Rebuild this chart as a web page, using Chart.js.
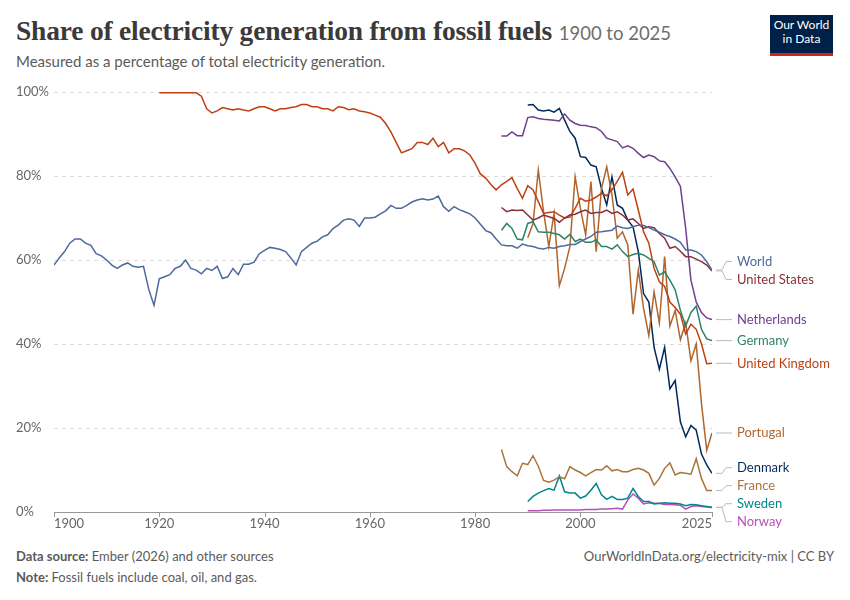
<!DOCTYPE html>
<html><head><meta charset="utf-8">
<script src="https://cdn.jsdelivr.net/npm/chart.js@4"></script>
<style>
body{margin:0;width:850px;height:600px;background:#fff;font-family:Lato,sans-serif;position:relative;overflow:hidden}
#c{position:absolute;left:0;top:0}
.t{position:absolute;white-space:nowrap}
</style></head><body>
<div class="t" style="left:16px;top:15px;font-family:'Liberation Serif',serif;font-size:27.5px;font-weight:bold;color:#3a3a3a;letter-spacing:-0.2px">Share of electricity generation from fossil fuels <span style="font-family:Lato;font-weight:normal;font-size:18.5px;color:#6e6e6e;letter-spacing:0">1900 to 2025</span></div>
<div class="t" style="left:16px;top:52px;font-size:15px;color:#5b5b5b">Measured as a percentage of total electricity generation.</div>
<div class="t" style="left:770px;top:15px;width:63px;height:35px;background:#002147;border-bottom:3px solid #ce261e;color:#fff;font-size:12px;line-height:14px;text-align:center;padding-top:3px;box-sizing:content-box">Our World<br>in Data</div>
<div class="t" style="left:16px;top:548px;font-size:13px;color:#5b5b5b"><b>Data source:</b> Ember (2026) and other sources</div>
<div class="t" style="left:16px;top:569px;font-size:13px;color:#5b5b5b"><b>Note:</b> Fossil fuels include coal, oil, and gas.</div>
<div class="t" style="right:16px;top:548px;font-size:13px;color:#5b5b5b">OurWorldInData.org/electricity-mix | CC BY</div>
<canvas id="c" width="850" height="600"></canvas>
<script>
const worldStart=1900;
const world=[58.8,60.5,62,64,65,65,64,63.5,61.5,61,60,58.8,58,58.8,59.3,58.5,58.3,58.5,53,49.2,55.5,56,56.5,58,58.5,60,58,57.6,56.7,58,57.5,58.5,55.6,56,58,56.5,59,59,59.5,61.5,62.3,63,62.8,62.5,62,60.5,58.8,62,63,64,64.5,65.5,66,67.5,68.3,69.5,69.8,69.5,68,70,70,70.2,71,71.7,73,72.3,72.3,73,73.8,74.3,74.6,74.3,74.5,75.2,72.7,71.6,72.7,72,71.5,71,70,68.5,67,66.5,65,63.6,63.4,63.4,62.8,63.8,63.4,63.2,62.8,62.6,63,62.8,63.2,63.4,63.7,63.7,64.4,65,65.6,66.6,66.7,66.9,67.1,68.1,67.7,67.5,67.9,68.3,68.2,67.7,67.1,66.6,66,65.6,65,64.2,62.4,62.4,62,61.2,59.6,57.6];
const usStart=1985;
const us=[72.5,71.5,71.9,71.8,71.9,70.7,69.5,70,70.7,70.3,69.9,69,70,70.7,70.9,71.5,71.9,71.1,71.3,71.3,71.9,71.1,71.5,70.7,69.5,69.8,68.7,67.5,67.9,67.7,66.3,65.2,62.8,63.2,62.1,60.8,60.8,60.2,59.6,58.8,57.4];
const nlStart=1985;
const nl=[89.5,89.5,90.5,89.6,89.6,93.9,94.1,93.7,93.5,93.4,93.3,93.1,94.8,93.3,92.5,92.1,92,91.7,91.5,90.6,89,88.6,88.2,86.7,87.2,86.6,85.4,84.4,85,84.6,83.6,83.4,81.8,79.8,77.5,67.5,55.2,50,47.5,46.2,45.8];
const deStart=1985;
const de=[67.1,68.7,67.5,65,64.8,68.7,69.1,66.7,66.6,66.6,66.3,66,65,66.1,64.4,65,64.2,64.2,64.8,63.2,63.2,62.6,63.6,62,60.8,61.3,61.6,61.2,60.4,59.6,56.4,57.2,55.2,52.9,48,44.3,47.5,49,43.5,41.2,40.8];
const ukStart=1920;
const uk=[99.8,99.8,99.8,99.8,99.8,99.8,99.8,99.8,99,96,95,95.5,96.3,96,95.7,96,95.7,95.5,96,96.5,96.5,96,95.5,96,96,96.3,96.5,97,97,96.5,96.5,96,96,95.5,96.5,96.3,95.8,96,95.5,95.3,95,94.5,94,92.5,90.5,88,85.5,86,86.5,88,88,87.5,89,87,88,85.5,86.5,86.5,86,85,83,80.5,79.5,78,76.7,77.9,78.7,79.6,77,74.7,77.7,76.7,73.9,71.1,71.3,71.5,70.7,70,70.2,72.3,74.7,74,74.3,75,75.9,75.3,76.7,78.7,80.9,75.5,76.9,71.9,66.7,64,58,54.8,53.7,50,48.7,47.1,42.4,44.7,43.5,40,35.3,35.4];
const ptStart=1990;
const pt=[65.3,68.7,81.4,71.5,63.2,71.1,53.9,58,63.2,79.8,72.3,66,78.7,62,77,82.2,75.5,65.2,66.7,63.6,47.1,57.6,48.5,42,52.4,45,60.8,44.3,48,41,45,36,40,25.8,14.7,18.8];
const dkStart=1990;
const dk=[96.9,97,95.7,95.5,95.7,95.2,96.1,93.3,90.6,89,84.6,84.4,82.6,82.2,77.1,73.1,79.8,73.1,72.3,69.5,67.9,62,52,50,39.2,34,39.2,29.3,31.3,21.4,17.9,20.6,19.5,13.8,11.2,9.2];
const frStart=1985;
const fr=[14.9,10.8,9.6,8.6,11.6,11.3,13.4,10.9,7.5,7.1,7.6,8.4,7.9,10.8,10,9.4,8.6,9.4,10.1,10,11,9.8,10.1,9.6,9.6,10.1,10.4,10,9.2,6.4,8,10.4,11.7,8.8,9.4,9.2,9,12.7,8,5.1,5.1];
const seStart=1990;
const se=[2.5,3.7,4.5,5.1,5.6,5.2,8.6,4.8,4.5,4.5,3.3,3.8,5.2,6.8,4.1,3,3.7,3,3,3.3,5.6,3.7,2.5,2.5,1.9,2.1,2.2,2.1,2.1,1.9,1.5,1.8,1.7,1.5,1.3,1.1];
const noStart=1990;
const no=[0.3,0.3,0.3,0.4,0.4,0.5,0.5,0.5,0.5,0.5,0.5,0.6,0.6,0.6,0.7,0.7,0.8,0.9,0.7,2.9,4.3,3.3,1.9,2.2,2.1,2,1.8,1.8,1.7,1.6,0.7,1.3,1.5,1.3,1.2,1.1];
const xTicks=[1900,1920,1940,1960,1980,2000,2025];
const yTicks=[0,20,40,60,80,100];

const series=[
 ['World',world,worldStart,'#4c6a9c'],
 ['United States',us,usStart,'#883039'],
 ['Netherlands',nl,nlStart,'#6d3e91'],
 ['Germany',de,deStart,'#2c8465'],
 ['United Kingdom',uk,ukStart,'#bd4012'],
 ['Portugal',pt,ptStart,'#b0652e'],
 ['Denmark',dk,dkStart,'#00295b'],
 ['France',fr,frStart,'#a8763a'],
 ['Sweden',se,seStart,'#00878a'],
 ['Norway',no,noStart,'#b84fb8']
];
const datasets=series.map(([n,v,s,c])=>({label:n,data:v.map((y,i)=>({x:s+i,y})),borderColor:c,borderWidth:1.5,pointRadius:0,tension:0,fill:false}));

const labelPlugin={id:'lab',beforeDatasetsDraw(ch){
 const ctx=ch.ctx,xs=ch.scales.x,ys=ch.scales.y;
 ctx.save();ctx.strokeStyle='#dcdcdc';ctx.lineWidth=1;ctx.setLineDash([4,4]);
 yTicks.forEach(v=>{if(v===0)return;const y=Math.round(ys.getPixelForValue(v))+0.5;ctx.beginPath();ctx.moveTo(xs.left,y);ctx.lineTo(xs.right,y);ctx.stroke();});
 ctx.restore();
},afterDraw(ch){
 const ctx=ch.ctx,xs=ch.scales.x,ys=ch.scales.y;
 ctx.save();
 ctx.font='13px Lato';ctx.fillStyle='#666';
 yTicks.forEach(v=>{const y=ys.getPixelForValue(v);ctx.textAlign='left';ctx.textBaseline='middle';ctx.fillText(v+'%',16,y);});
 ctx.textBaseline='top';
 xTicks.forEach((v,i)=>{const x=xs.getPixelForValue(v);ctx.textAlign=i==0?'left':(i==xTicks.length-1?'right':'center');ctx.fillText(String(v),x,ys.bottom+5);
  ctx.strokeStyle='#999';ctx.lineWidth=1;ctx.beginPath();ctx.moveTo(Math.round(x)+0.5,ys.bottom);ctx.lineTo(Math.round(x)+0.5,ys.bottom+5);ctx.stroke();});
 const items=series.map(([n,v,s,c])=>({n,c,y0:ys.getPixelForValue(v[v.length-1])}));
 items.sort((a,b)=>a.y0-b.y0);
 items.forEach(it=>it.y=it.y0);
 for(let k=0;k<50;k++){for(let i=1;i<items.length;i++){if(items[i].y-items[i-1].y<18){const d=(18-(items[i].y-items[i-1].y))/2;items[i].y+=d;items[i-1].y-=d;}}}
 const xe=xs.right;
 ctx.font='13px Lato';ctx.textAlign='left';ctx.textBaseline='middle';
 items.forEach(it=>{ctx.strokeStyle='#bbb';ctx.lineWidth=1;ctx.beginPath();ctx.moveTo(xe+4,it.y0);ctx.lineTo(xe+10,it.y0);ctx.lineTo(xe+14,it.y);ctx.lineTo(xe+20,it.y);ctx.stroke();
  ctx.fillStyle=it.c;ctx.fillText(it.n,xe+25,it.y);});
 ctx.restore();
}};
new Chart(document.getElementById('c'),{type:'line',data:{datasets},plugins:[labelPlugin],
options:{responsive:false,animation:false,layout:{padding:{left:54,right:138,top:92,bottom:88}},
plugins:{legend:{display:false},tooltip:{enabled:false}},
scales:{x:{type:'linear',min:1900,max:2025,ticks:{display:false},grid:{display:false,drawTicks:false},border:{display:true,color:'#999'}},
y:{min:0,max:100,ticks:{display:false,stepSize:20},grid:{display:false,drawTicks:false},border:{display:false}}}}});
</script>
</body></html>
